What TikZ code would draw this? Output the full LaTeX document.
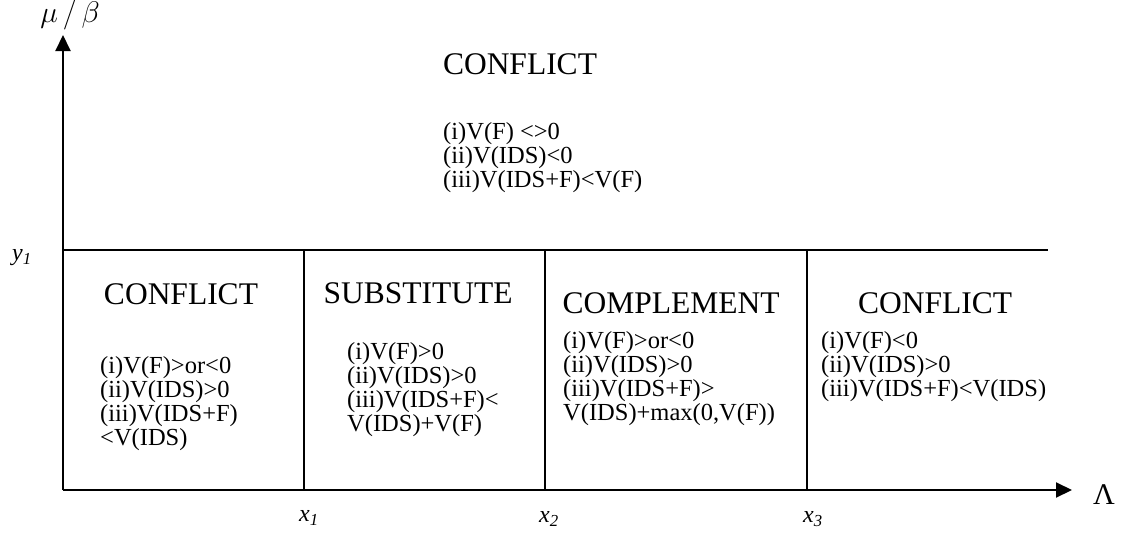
\documentclass[tikz,border=0pt]{standalone}
\usepackage{graphicx}
\usepackage{fontspec}
\setmainfont{Liberation Serif}
\usetikzlibrary{arrows.meta}
\begin{document}
\begin{tikzpicture}[x=1pt,y=-1pt,
  axis/.style={line width=2pt,-{Triangle[length=16pt,width=15pt]}},
  rule/.style={line width=1.8pt},
  head/.style={inner sep=0pt,font=\fontsize{31.5}{36}\selectfont},
  cond/.style={inner sep=0pt,anchor=north west,align=left,font=\fontsize{24.5}{24}\selectfont},
  tick/.style={inner sep=0pt,font=\fontsize{24}{28}\selectfont\itshape}]
\useasboundingbox (0,0) rectangle (1122,533);

% axes and region boundaries
\coordinate (O) at (63,490);
\coordinate (ytip) at (63,35);
\coordinate (xtip) at (1072,490);
\coordinate (yl) at (63,250);
\coordinate (yr) at (1048,250);
\coordinate (d1t) at (304,250); \coordinate (d1b) at (304,490);
\coordinate (d2t) at (545,250); \coordinate (d2b) at (545,490);
\coordinate (d3t) at (807,250); \coordinate (d3b) at (807,490);

\draw[axis] (O) -- (ytip);
\draw[axis] (O) -- (xtip);
\draw[rule] (yl) -- (yr);
\draw[rule] (d1t) -- (d1b);
\draw[rule] (d2t) -- (d2b);
\draw[rule] (d3t) -- (d3b);

% axis labels
\node[inner sep=0pt,font=\fontsize{24}{28}\selectfont] (ylab) at (70,15) {\scalebox{1.2}{$\mu\,/\,\beta$}};
\node[inner sep=0pt,font=\fontsize{30}{34}\selectfont] (xlab) at (1104,495) {Λ};
\node[tick] (y1) at (22,258) {y\textsubscript{1}};
\node[tick] (x1) at (309,518) {x\textsubscript{1}};
\node[tick] (x2) at (549,519) {x\textsubscript{2}};
\node[tick] (x3) at (813,519) {x\textsubscript{3}};

% upper region
\node[head] (topc) at (520,64) {CONFLICT};
\node[cond] (topt) at (443,122) {(i)V(F) <>0\\(ii)V(IDS)<0\\(iii)V(IDS+F)<V(F)};

% lower regions
\node[head] (c1) at (181,294) {CONFLICT};
\node[cond] (t1) at (100,356) {(i)V(F)>or<0\\(ii)V(IDS)>0\\(iii)V(IDS+F)\\<V(IDS)};

\node[head] (c2) at (418,293) {SUBSTITUTE};
\node[cond] (t2) at (347,342) {(i)V(F)>0\\(ii)V(IDS)>0\\(iii)V(IDS+F)<\\V(IDS)+V(F)};

\node[head] (c3) at (671,303) {COMPLEMENT};
\node[cond] (t3) at (563,331) {(i)V(F)>or<0\\(ii)V(IDS)>0\\(iii)V(IDS+F)>\\V(IDS)+max(0,V(F))};

\node[head] (c4) at (935,303) {CONFLICT};
\node[cond] (t4) at (821,331) {(i)V(F)<0\\(ii)V(IDS)>0\\(iii)V(IDS+F)<V(IDS)};
\end{tikzpicture}
\end{document}
